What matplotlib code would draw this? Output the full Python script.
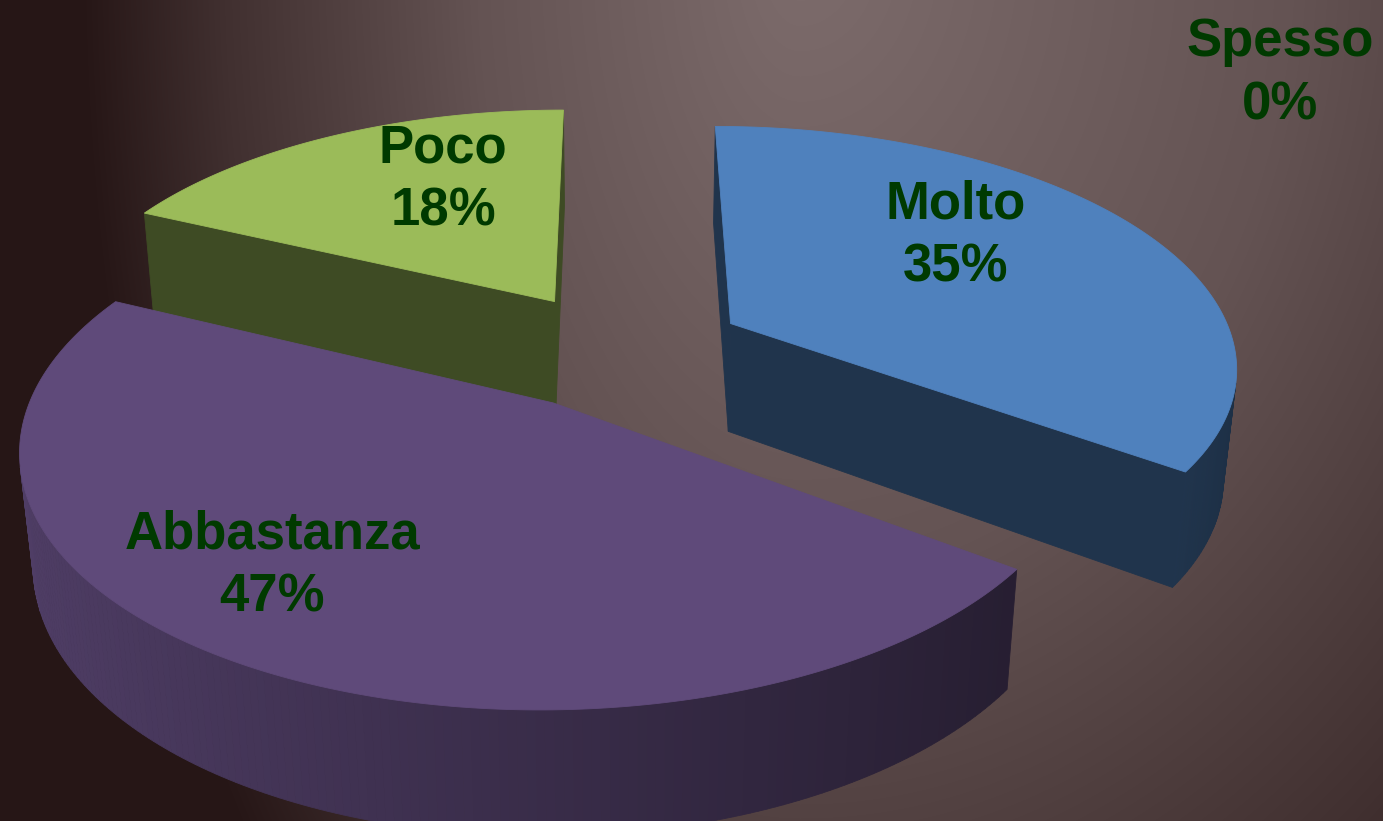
import numpy as np
import matplotlib
matplotlib.use("Agg")
import matplotlib.pyplot as plt
from matplotlib.colors import to_rgb

# Data
labels = ["Molto", "Abbastanza", "Poco", "Spesso"]
values = [35, 47, 18, 0]
colors = ["#4F81BD", "#5F4A7A", "#9BBB59", "#F79646"]

W, H = 1383, 821
fig = plt.figure(figsize=(W / 100, H / 100), dpi=100)
ax = fig.add_axes([0, 0, 1, 1])
ax.set_xlim(0, W)
ax.set_ylim(H, 0)
ax.axis("off")

# Background: soft radial gradient, light at top centre-right
yy, xx = np.mgrid[0:H, 0:W]
rx = np.where(xx < 800, 720.0, 1100.0)
r = np.sqrt(((xx - 800) / rx) ** 2 + ((yy + 50) / 1400.0) ** 2)
stops = [0.0, 0.45, 0.8, 1.0]
stop_cols = np.array([[125, 108, 108], [100, 83, 83], [65, 48, 48], [38, 22, 22]]) / 255
bg = np.stack([np.interp(r, stops, stop_cols[:, k]) for k in range(3)], axis=-1)
ax.imshow(bg, extent=(0, W, H, 0), aspect="auto", zorder=0, interpolation="bilinear")

# 3D perspective camera (pie radius = 1)
E = np.radians(28)
L = 5.4          # camera distance
F = 2730         # focal length, px
CX, CY = 620, 350
T = 0.25         # thickness
EXPLODE = 0.25
cam = np.array([0.0, -L * np.cos(E), L * np.sin(E)])


def project(X, Y, Z):
    d = L + Y * np.cos(E) - Z * np.sin(E)
    return CX + F * X / d, CY - F * (Y * np.sin(E) + Z * np.cos(E)) / d


def visible(normal, point):
    return np.dot(normal, cam - point) > 0


def shade(color, f):
    return tuple(np.clip(np.array(to_rgb(color)) * f, 0, 1))


def draw_quad(p, color):
    xs, ys = project(p[:, 0], p[:, 1], p[:, 2])
    ax.fill(xs, ys, color=color, ec=color, lw=0.6, zorder=2)


total = sum(values)
slices = []
cum = 0
for name, v, c in zip(labels, values, colors):
    a0 = 90 - 360 * cum / total
    cum += v
    a1 = 90 - 360 * cum / total
    if v > 0:
        b = np.radians((a0 + a1) / 2)
        ox, oy = EXPLODE * np.cos(b), EXPLODE * np.sin(b)
        slices.append((L + oy * np.cos(E), a0, a1, ox, oy, c))

# far slices first
for _, a0, a1, ox, oy, c in sorted(slices, key=lambda s: -s[0]):
    th = np.radians(np.linspace(a0, a1, 200))
    ex, ey = ox + np.cos(th), oy + np.sin(th)

    # radial walls
    for ang, side in ((a0, 90), (a1, -90)):
        t = np.radians(ang)
        n = np.array([np.cos(t + np.radians(side)), np.sin(t + np.radians(side)), 0])
        px, py = ox + np.cos(t), oy + np.sin(t)
        quad = np.array([[ox, oy, 0], [px, py, 0], [px, py, -T], [ox, oy, -T]])
        if visible(n, quad.mean(axis=0)):
            draw_quad(quad, shade(c, 0.4))

    # outer curved wall
    for i in range(len(th) - 1):
        tm = (th[i] + th[i + 1]) / 2
        n = np.array([np.cos(tm), np.sin(tm), 0])
        quad = np.array([[ex[i], ey[i], 0], [ex[i + 1], ey[i + 1], 0],
                         [ex[i + 1], ey[i + 1], -T], [ex[i], ey[i], -T]])
        if visible(n, quad.mean(axis=0)):
            draw_quad(quad, shade(c, 0.6 - 0.24 * np.cos(tm)))

    # top face
    tx = np.concatenate([[ox], ex])
    ty = np.concatenate([[oy], ey])
    sx, sy = project(tx, ty, np.zeros_like(tx))
    ax.fill(sx, sy, color=c, ec=c, lw=0.6, zorder=2)

# Data labels
label_xy = [(956, 236), (272, 566), (443, 180), (1280, 74)]
for name, v, (x, y) in zip(labels, values, label_xy):
    ax.text(x, y, f"{name}\n{round(100 * v / total)}%", ha="center", va="center",
            fontsize=38, fontweight="bold", family=["Liberation Sans", "DejaVu Sans"],
            color="#003A00", linespacing=1.35, zorder=5)

fig.savefig("out.png", dpi=100)
